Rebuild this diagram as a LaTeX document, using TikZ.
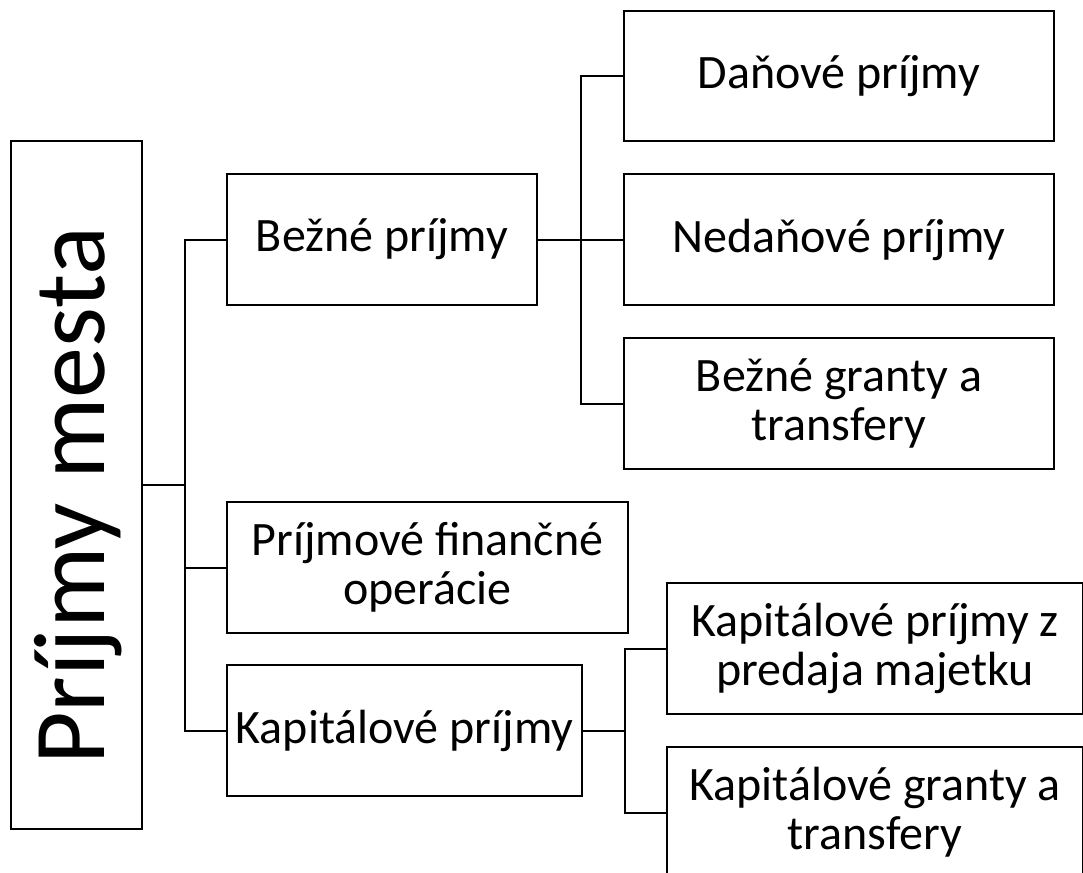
\documentclass[tikz,border=0pt]{standalone}
\usepackage{fontspec}
\setmainfont{Carlito}
\begin{document}
\begin{tikzpicture}[x=1pt,y=-1pt,
  box/.style={draw=black, line width=2pt, align=center, inner sep=0pt,
    font=\fontsize{48}{49}\selectfont},
  conn/.style={draw=black, line width=2pt}]
\useasboundingbox (0,0) rectangle (1083,872);
\clip (0,0) rectangle (1083,872);
\fill[white] (0,0) rectangle (1083,872);
\node[box, minimum width=131pt, minimum height=688pt] (root) at (76.25,485) {};
\node[rotate=90, font=\fontsize{102}{104}\selectfont] (roott) at (78,496) {Príjmy mesta};
\node[box, minimum width=310pt, minimum height=131pt] (bezne) at (382,239.5) {Bežné príjmy};
\node[box, minimum width=430pt, minimum height=130pt] (dan) at (839,76) {Daňové príjmy};
\node[box, minimum width=430pt, minimum height=131pt] (neda) at (839,239.5) {Nedaňové príjmy};
\node[box, minimum width=430pt, minimum height=131pt] (bgr) at (839,403.5) {Bežné granty a\\transfery};
\node[box, minimum width=401pt, minimum height=131pt] (pfo) at (427.5,567.5) {Príjmové finančné\\operácie};
\node[box, minimum width=355pt, minimum height=131pt] (kap) at (404.5,730.5) {Kapitálové príjmy};
\node[box, minimum width=416pt, minimum height=131pt] (kpz) at (875,648.5) {Kapitálové príjmy z\\predaja majetku};
\node[box, minimum width=416pt, minimum height=131pt] (kgr) at (875,812.5) {Kapitálové granty a\\transfery};
\coordinate (j1) at (184.5,485);
\coordinate (j2) at (581,239.5);
\coordinate (j3) at (625,730.5);
\draw[conn] (root.east) -- (j1);
\draw[conn] (j1) |- (bezne.west);
\draw[conn] (j1) |- (pfo.west);
\draw[conn] (j1) |- (kap.west);
\draw[conn] (bezne.east) -- (j2);
\draw[conn] (j2) |- (dan.west);
\draw[conn] (j2) |- (neda.west);
\draw[conn] (j2) |- (bgr.west);
\draw[conn] (kap.east) -- (j3);
\draw[conn] (j3) |- (kpz.west);
\draw[conn] (j3) |- (kgr.west);
\end{tikzpicture}
\end{document}
